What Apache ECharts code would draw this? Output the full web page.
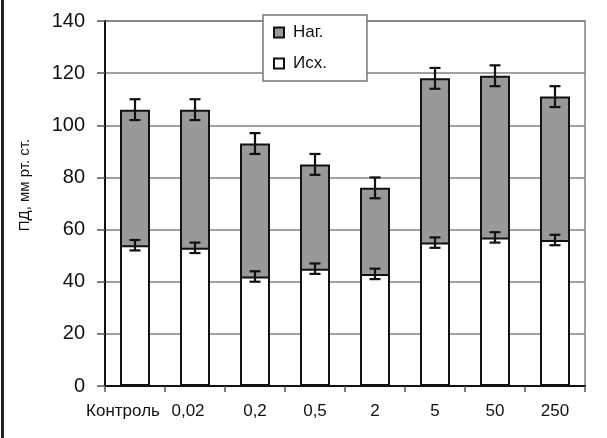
<!DOCTYPE html>
<html><head><meta charset="utf-8">
<script src="https://cdn.jsdelivr.net/npm/echarts@6/dist/echarts.min.js"></script>
<style>html,body{margin:0;padding:0;background:#fff}#c{width:607px;height:438px}</style>
</head><body><div id="c"></div>
<script>
var categories = ['Контроль', '0,02', '0,2', '0,5', '2', '5', '50', '250'];
var nagValues = [106, 106, 93, 85, 76, 118, 119, 111];
var nagErrors = [4, 4, 4, 4, 4, 4, 4, 4];
var iskhValues = [54, 53, 42, 45, 43, 55, 57, 56];
var iskhErrors = [2, 2, 2, 2, 2, 2, 2, 2];
var yTicks = [0, 20, 40, 60, 80, 100, 120, 140];

var FONT = '"Liberation Sans", Arial, sans-serif';
var chart = echarts.init(document.getElementById('c'), null, {renderer: 'canvas'});

function errData(vals, errs) {
  return vals.map(function (v, i) { return [i, v - errs[i], v + errs[i]]; });
}
function errRender(params, api) {
  var x = api.value(0);
  var lo = api.coord([x, api.value(1)]);
  var hi = api.coord([x, api.value(2)]);
  var hw = 5.5;
  var st = {stroke: '#111', lineWidth: 2.2};
  return {type: 'group', children: [
    {type: 'line', shape: {x1: hi[0], y1: hi[1], x2: lo[0], y2: lo[1]}, style: st},
    {type: 'line', shape: {x1: hi[0] - hw, y1: hi[1], x2: hi[0] + hw, y2: hi[1]}, style: st},
    {type: 'line', shape: {x1: lo[0] - hw, y1: lo[1], x2: lo[0] + hw, y2: lo[1]}, style: st}
  ]};
}

var catData = categories.map(function (c, i) {
  var o = {value: c};
  if (i === 0) o.textStyle = {padding: [0, 24, 0, 0]};
  if (i === 1) o.textStyle = {padding: [0, 14, 0, 0]};
  return o;
});

chart.setOption({
  backgroundColor: '#ffffff',
  animation: false,
  grid: {left: 105, right: 22, top: 21, bottom: 52, show: true, borderColor: '#808080', borderWidth: 1.5, backgroundColor: 'transparent'},
  legend: {
    orient: 'vertical', left: 263, top: 15,
    padding: [9, 40, 9, 10], itemGap: 14,
    backgroundColor: '#fff', borderColor: '#777', borderWidth: 1.5,
    icon: 'rect', itemWidth: 10, itemHeight: 10,
    textStyle: {fontFamily: FONT, fontSize: 17, color: '#111', padding: [0, 0, 0, 4]},
    data: ['Наг.', 'Исх.']
  },
  xAxis: {
    type: 'category', data: catData, boundaryGap: true,
    axisLine: {lineStyle: {color: '#111', width: 2}},
    axisTick: {show: true, inside: false, length: 6, lineStyle: {color: '#555', width: 1.5}},
    axisLabel: {fontFamily: FONT, fontSize: 17, color: '#111', margin: 17, interval: 0},
    splitLine: {show: false}
  },
  yAxis: {
    type: 'value', min: 0, max: 140, interval: 20,
    axisLine: {show: true, lineStyle: {color: '#111', width: 2}},
    axisTick: {show: true, length: 8, lineStyle: {color: '#555', width: 1.5}},
    axisLabel: {fontFamily: FONT, fontSize: 20, color: '#111', margin: 20,
      formatter: function (v) { return yTicks.indexOf(v) >= 0 ? String(v) : ''; }},
    splitLine: {show: true, lineStyle: {color: '#808080', width: 1.5}}
  },
  graphic: [
    {type: 'rect', left: 1, top: 0, shape: {width: 3, height: 438}, style: {fill: '#222'}},
    {type: 'text', x: 25, y: 185, rotation: Math.PI / 2, style: {text: 'ПД, мм рт. ст.', font: '15px ' + FONT, fill: '#111', align: 'center', verticalAlign: 'middle'}}
  ],
  series: [
    {name: 'Наг.', type: 'bar', data: nagValues, barWidth: '50%', barGap: '-100%', z: 2,
     itemStyle: {color: '#999999', borderColor: '#111', borderWidth: 2}},
    {name: 'Исх.', type: 'bar', data: iskhValues, barWidth: '50%', barGap: '-100%', z: 3,
     itemStyle: {color: '#ffffff', borderColor: '#111', borderWidth: 2}},
    {type: 'custom', data: errData(nagValues, nagErrors), renderItem: errRender, z: 5},
    {type: 'custom', data: errData(iskhValues, iskhErrors), renderItem: errRender, z: 5}
  ]
});
</script></body></html>
